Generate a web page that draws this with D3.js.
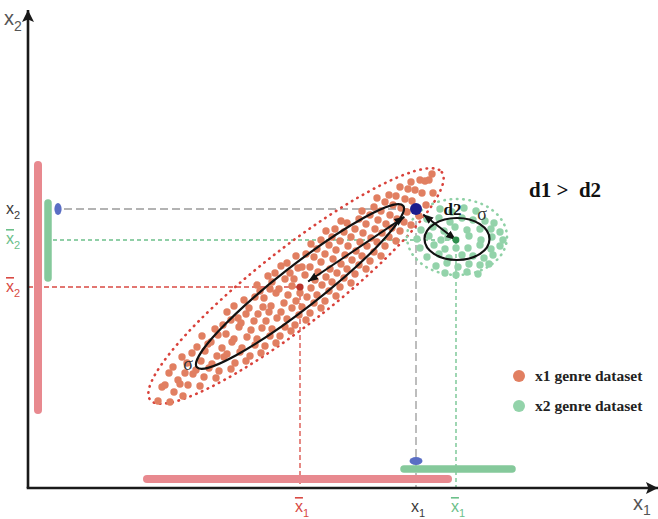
<!DOCTYPE html>
<html><head><meta charset="utf-8">
<script src="https://cdn.jsdelivr.net/npm/d3@7"></script>
<style>
html,body{margin:0;padding:0;background:#fff;}
svg{display:block;}
text{white-space:pre;}
</style></head>
<body>
<svg id="chart" width="658" height="519"></svg>
<script>
// ---------- data (data units) ----------
const redPoints = [
[13.0,8.7],[13.4,10.1],
[14.2,8.6],[13.7,10.3],[14.1,11.5],
[14.6,9.6],[15.0,10.8],[14.5,12.1],
[15.5,9.2],[15.2,10.4],[15.7,11.5],[15.4,13.1],
[16.0,10.3],[16.5,11.4],[15.9,12.5],[16.4,13.5],
[17.2,10.2],[16.8,11.8],[17.3,12.7],[16.9,14.1],[17.4,15.2],
[17.6,11.1],[18.1,12.0],[17.7,13.7],[18.0,14.4],
[18.8,11.0],[18.4,12.4],[18.9,13.2],[18.3,14.6],[18.7,15.9],
[19.1,11.7],[19.6,13.1],[19.4,14.0],[19.0,15.3],[19.5,16.3],
[20.3,11.9],[19.9,13.4],[20.4,14.6],[19.8,15.4],[20.3,16.8],[19.9,17.6],
[20.7,12.5],[21.2,13.6],[20.6,14.9],[21.1,16.1],[21.0,17.0],[20.6,18.2],
[21.8,12.7],[21.4,14.0],[21.9,15.1],[21.3,16.5],[21.8,17.4],[21.6,18.8],
[22.2,13.2],[22.7,14.3],[22.3,15.8],[22.6,16.7],[22.1,18.0],[22.7,19.1],
[23.3,13.5],[22.9,14.9],[23.4,16.0],[23.0,17.4],[23.5,18.1],[23.2,19.7],[22.9,20.3],
[23.7,14.2],[24.2,15.2],[23.8,16.7],[24.1,17.6],[23.6,19.0],[24.2,19.9],[24.0,21.2],
[24.8,14.5],[24.4,15.9],[24.9,17.0],[24.3,18.2],[24.8,19.5],[24.4,20.6],[24.7,21.5],
[25.2,15.2],[25.7,16.1],[25.3,17.6],[25.6,18.5],[25.1,19.9],[25.7,20.9],[25.3,22.2],
[26.3,15.7],[25.9,16.9],[26.4,18.0],[26.0,19.3],[26.4,20.2],[26.2,21.5],[25.9,22.5],
[26.7,16.3],[27.1,17.3],[26.8,18.7],[27.2,19.5],[26.6,20.9],[27.0,22.0],[26.8,23.2],
[27.8,16.8],[27.4,18.1],[27.9,19.1],[27.7,21.3],[27.4,22.1],[27.8,23.4],
[28.2,17.5],[28.6,18.5],[28.3,20.0],[28.7,20.8],[28.2,22.1],[28.6,23.1],[28.3,24.4],
[29.3,18.0],[28.9,19.3],[29.4,20.3],[29.0,21.6],[29.3,22.6],[28.9,23.9],[29.3,24.8],
[29.7,18.7],[30.1,19.7],[29.8,21.1],[30.2,21.9],[29.7,23.4],[30.1,24.3],[29.8,25.7],
[30.8,19.2],[30.4,20.6],[30.9,21.5],[30.5,22.9],[30.8,23.8],[30.4,25.1],[30.7,25.9],
[31.2,20.1],[31.6,21.0],[31.3,22.4],[31.7,23.3],[31.2,24.7],[31.6,25.6],[31.3,26.7],
[32.3,20.5],[31.9,21.9],[32.4,22.8],[32.0,24.2],[32.3,25.1],[31.9,26.5],
[32.7,21.4],[33.1,22.3],[32.8,23.7],[33.2,24.6],[32.7,25.9],[33.1,26.9],
[33.8,21.9],[33.4,23.2],[33.9,24.2],[33.5,25.5],[33.8,26.4],[33.4,27.7],
[34.2,22.7],[34.6,23.6],[34.3,25.0],[34.7,25.9],[34.2,27.3],[34.6,28.1],
[35.3,23.2],[34.9,24.6],[35.4,25.5],[35.0,26.8],[35.3,27.7],[34.9,29.0],
[35.7,24.2],[36.1,25.1],[35.8,26.4],[36.2,27.3],[35.7,28.6],[36.1,29.3],
[36.8,24.7],[36.4,26.0],[36.9,26.9],[36.5,28.3],[36.8,29.2],
[37.2,25.7],[37.6,26.6],[37.3,28.0],[37.7,28.9],[37.2,30.1],
[38.3,26.3],[37.9,27.6],[38.4,28.7],[38.0,29.9],[38.3,30.6],
[39.1,27.2],[38.7,29.8],[39.2,30.8],
[39.8,28.3],[39.4,29.5],[39.7,30.7],
[40.5,29.5],[40.1,30.8],[40.4,31.4]
];
const greenPoints = [
[41.2,27.9],[42.4,27.6],[43.6,28.0],[44.8,27.7],
[39.9,26.9],[41.1,27.0],[42.2,26.6],[43.4,27.0],[44.5,26.8],[45.7,26.7],[46.6,26.5],
[39.3,25.8],[40.5,26.1],[41.6,25.7],[42.7,26.1],[43.9,25.8],[45.2,25.9],[46.3,25.9],[47.2,25.6],
[38.9,24.9],[40.1,25.2],[41.3,24.8],[42.0,25.1],[44.1,25.2],[45.3,24.8],[46.4,25.1],[47.5,24.8],
[39.2,24.0],[40.6,24.3],[41.7,23.9],[42.8,24.0],[44.0,24.0],[45.2,24.3],[46.3,23.9],[47.2,24.2],
[39.9,23.1],[41.1,23.4],[42.1,23.0],[43.4,23.3],[44.5,23.2],[45.6,23.0],[46.5,23.3],
[40.8,22.2],[41.9,22.5],[43.0,22.1],[44.1,22.4],[45.2,22.3],[46.1,22.4],
[41.7,21.5],[42.8,21.3],[43.9,21.6],[45.0,21.4]
];
const observation = [38.8, 27.9];   // (x1, x2)
const redMean = [27.2, 20.1];       // (x̄1, x̄2) of x1 genre
const greenMean = [42.8, 24.8];     // (x̄1, x̄2) of x2 genre
const redRangeX = [11.9, 42.0];
const redRangeY = [7.8, 32.3];
const greenRangeX = [37.6, 48.4];
const greenRangeY = [21.0, 28.5];
// ellipses: [cx, cy, rx, ry, angleDeg]
const redOuterEllipse = [26.8, 20.2, 18.5, 3.8, 38];
const redSigmaEllipse = [27.2, 20.15, 13.1, 2.1, 38];
const greenOuterEllipse = [42.9, 25.1, 5.0, 3.8, 0];
const greenSigmaEllipse = [42.9, 24.9, 3.25, 2.1, 0];
const legendLabels = ["x1 genre dataset", "x2 genre dataset"];
const comparisonText = "d1 >  d2";

// ---------- colours ----------
const RED_PT = "#e17f61", GREEN_PT = "#93d3aa";
const RED_BAR = "#e8898f", GREEN_BAR = "#85c99b", BLUE_MK = "#5a6ec4";
const RED_LINE = "#d94a43", GREEN_LINE = "#6cc08a", GRAY_LINE = "#9a9a9a";

const svg = d3.select("#chart");
const x = d3.scaleLinear().domain([0, 63]).range([28, 658]);
const y = d3.scaleLinear().domain([0, 47.8]).range([488, 10]);
const k = x(1) - x(0); // px per unit (isotropic)

const defs = svg.append("defs");
defs.append("marker").attr("id","arr").attr("viewBox","0 0 10 10")
  .attr("refX",10).attr("refY",5).attr("markerWidth",10).attr("markerHeight",10)
  .attr("markerUnits","userSpaceOnUse").attr("orient","auto-start-reverse")
  .append("path").attr("d","M0,1 L10,5 L0,9 Z").attr("fill","#111");
defs.append("marker").attr("id","axarr").attr("viewBox","0 0 10 10")
  .attr("refX",10).attr("refY",5).attr("markerWidth",14).attr("markerHeight",12)
  .attr("markerUnits","userSpaceOnUse").attr("orient","auto")
  .append("path").attr("d","M0,0 L10,5 L0,10 L2,5 Z").attr("fill","#1a1a1a");

// ---------- dashed guide lines ----------
const guides = [
  {p: observation, c: GRAY_LINE, dash: "8,4", x0: 3.6},
  {p: greenMean, c: GREEN_LINE, dash: "4,3", x0: 2.5},
  {p: redMean, c: RED_LINE, dash: "5,3", x0: 0}
];
guides.forEach(g => {
  svg.append("line").attr("x1", x(g.x0)).attr("x2", x(g.p[0]))
    .attr("y1", y(g.p[1])).attr("y2", y(g.p[1]))
    .attr("stroke", g.c).attr("stroke-width", 1.3).attr("stroke-dasharray", g.dash);
  svg.append("line").attr("x1", x(g.p[0])).attr("x2", x(g.p[0]))
    .attr("y1", y(g.p[1])).attr("y2", y(0))
    .attr("stroke", g.c).attr("stroke-width", 1.3).attr("stroke-dasharray", g.dash);
});

// ---------- range bars ----------
function bar(x1, y1, x2, y2, c, w) {
  svg.append("line").attr("x1", x1).attr("y1", y1).attr("x2", x2).attr("y2", y2)
    .attr("stroke", c).attr("stroke-width", w).attr("stroke-linecap", "round");
}
bar(x(1.0), y(redRangeY[1]), x(1.0), y(redRangeY[0]), RED_BAR, 8);
bar(x(2.0), y(greenRangeY[1]), x(2.0), y(greenRangeY[0]), GREEN_BAR, 7.5);
bar(x(redRangeX[0]), y(0.9), x(redRangeX[1]), y(0.9), RED_BAR, 8);
bar(x(greenRangeX[0]), y(1.9), x(greenRangeX[1]), y(1.9), GREEN_BAR, 7.5);
svg.append("ellipse").attr("cx", x(3.0)).attr("cy", y(observation[1])).attr("rx", 3.6).attr("ry", 6).attr("fill", BLUE_MK);
svg.append("ellipse").attr("cx", x(observation[0])).attr("cy", y(2.7)).attr("rx", 6.5).attr("ry", 4).attr("fill", BLUE_MK);

// ---------- axes ----------
svg.append("line").attr("x1", x(0)).attr("y1", y(0)).attr("x2", x(0)).attr("y2", y(47.8))
  .attr("stroke", "#1a1a1a").attr("stroke-width", 2.6).attr("marker-end", "url(#axarr)");
svg.append("line").attr("x1", x(0) - 1.3).attr("y1", y(0)).attr("x2", x(63)).attr("y2", y(0))
  .attr("stroke", "#1a1a1a").attr("stroke-width", 2.6).attr("marker-end", "url(#axarr)");

// ---------- dotted ellipses ----------
function ell(e, stroke, dash, w) {
  svg.append("ellipse").attr("cx", 0).attr("cy", 0)
    .attr("rx", e[2] * k).attr("ry", e[3] * k)
    .attr("transform", `translate(${x(e[0])},${y(e[1])}) rotate(${-e[4]})`)
    .attr("fill", "none").attr("stroke", stroke).attr("stroke-width", w)
    .attr("stroke-dasharray", dash).attr("stroke-linecap", "round");
}
ell(redOuterEllipse, "#d9423b", "0.5,5.8", 2.6);
ell(greenOuterEllipse, "#8fd1a6", "0.5,5.8", 2.6);

// ---------- points ----------
svg.append("g").selectAll("circle").data(greenPoints).join("circle")
  .attr("cx", d => x(d[0])).attr("cy", d => y(d[1])).attr("r", 3.7).attr("fill", GREEN_PT);
svg.append("g").selectAll("circle").data(redPoints).join("circle")
  .attr("cx", d => x(d[0])).attr("cy", d => y(d[1])).attr("r", 3.7).attr("fill", RED_PT);

// ---------- sigma ellipses ----------
ell(redSigmaEllipse, "#111", null, 2.2);
ell(greenSigmaEllipse, "#111", null, 2.2);

// ---------- distance arrows ----------
function arrow(a, b, t0, t1) {
  const ix = d3.interpolate(a[0], b[0]), iy = d3.interpolate(a[1], b[1]);
  svg.append("line").attr("x1", x(ix(t0))).attr("y1", y(iy(t0)))
    .attr("x2", x(ix(t1))).attr("y2", y(iy(t1)))
    .attr("stroke", "#111").attr("stroke-width", 2)
    .attr("marker-start", "url(#arr)").attr("marker-end", "url(#arr)");
}
arrow(observation, redMean, 0.1, 0.93);
arrow(observation, greenMean, 0.18, 1.0);

// ---------- centres ----------
svg.append("circle").attr("cx", x(redMean[0])).attr("cy", y(redMean[1])).attr("r", 3.6).attr("fill", "#b8322a");
svg.append("circle").attr("cx", x(greenMean[0])).attr("cy", y(greenMean[1])).attr("r", 3.4).attr("fill", "#2f8f4e");
svg.append("circle").attr("cx", x(observation[0])).attr("cy", y(observation[1])).attr("r", 6).attr("fill", "#1c1c8c");

// ---------- texts ----------
const sans = "'Liberation Sans', Arial, sans-serif";
const serif = "'Liberation Serif', 'Times New Roman', serif";
function varLabel(px, py, sub, color, bar, anchor) {
  const t = svg.append("text").attr("x", px).attr("y", py).attr("fill", color)
    .attr("font-family", sans).attr("font-size", 16).attr("text-anchor", anchor || "start");
  t.append("tspan").text("x").style("text-decoration", bar ? "overline" : "none");
  t.append("tspan").attr("dy", 5).attr("font-size", 11).text(sub);
  return t;
}
// y-axis tick labels
varLabel(6, y(observation[1]) + 5, "2", "#3a3a3a", false);
varLabel(6, y(greenMean[1]) + 4, "2", GREEN_LINE, true);
varLabel(6, y(redMean[1]) + 5, "2", RED_LINE, true);
// x-axis tick labels
varLabel(x(redMean[0]) + 2, 512, "1", RED_LINE, true, "middle");
varLabel(x(observation[0]) + 2, 512, "1", "#3a3a3a", false, "middle");
varLabel(x(greenMean[0]) + 2, 512, "1", GREEN_LINE, true, "middle");
// axis titles
const t2 = svg.append("text").attr("x", 4).attr("y", 25).attr("fill", "#555")
  .attr("font-family", sans).attr("font-size", 20).attr("font-weight", 300);
t2.append("tspan").text("x"); t2.append("tspan").attr("dy", 6).attr("font-size", 14).text("2");
const t1 = svg.append("text").attr("x", 633).attr("y", 510).attr("fill", "#555")
  .attr("font-family", sans).attr("font-size", 20).attr("font-weight", 300);
t1.append("tspan").text("x"); t1.append("tspan").attr("dy", 5).attr("font-size", 14).text("1");

// sigma labels
svg.append("text").attr("x", x(16.0)).attr("y", y(11.8)).attr("text-anchor", "middle")
  .attr("font-family", serif).attr("font-size", 18).attr("fill", "#333").text("σ");
svg.append("text").attr("x", x(45.4)).attr("y", y(26.8)).attr("text-anchor", "middle")
  .attr("font-family", serif).attr("font-size", 18).attr("fill", "#333").text("σ");
// d2 label
svg.append("text").attr("x", x(42.45)).attr("y", y(27.3)).attr("text-anchor", "middle")
  .attr("font-family", serif).attr("font-size", 17).attr("font-weight", "bold").attr("fill", "#111").text("d2");
// comparison
svg.append("text").attr("x", 529).attr("y", 197)
  .attr("font-family", serif).attr("font-size", 21).attr("font-weight", "bold").attr("fill", "#111").text(comparisonText);

// legend
const lg = svg.append("g");
legendLabels.forEach((lab, i) => {
  const cy = 376 + i * 30;
  lg.append("circle").attr("cx", 519).attr("cy", cy).attr("r", 6).attr("fill", i === 0 ? RED_PT : GREEN_PT);
  lg.append("text").attr("x", 535).attr("y", cy + 5).attr("font-family", serif)
    .attr("font-size", 15.5).attr("font-weight", "bold").attr("fill", "#222").text(lab);
});
</script>
</body></html>
